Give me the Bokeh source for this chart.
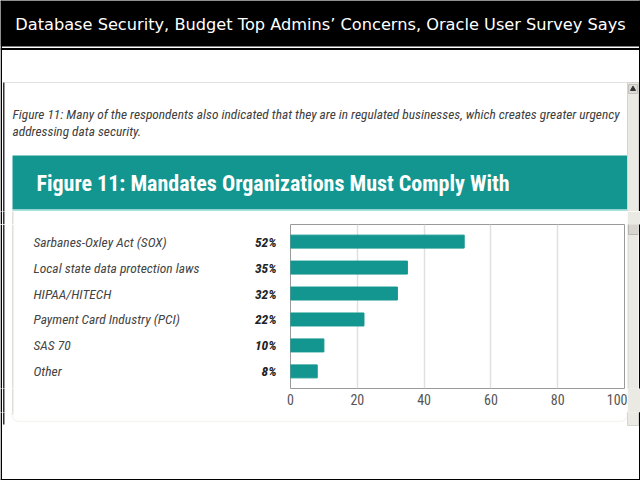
from bokeh.plotting import figure
from bokeh.models import (ColumnDataSource, FactorRange, Range1d, BoxAnnotation, FixedTicker)
from bokeh.layouts import row, column
from bokeh.core.properties import value
from bokeh.embed import file_html
from bokeh.resources import INLINE

# ---------------- data ----------------
categories = ["Sarbanes-Oxley Act (SOX)", "Local state data protection laws", "HIPAA/HITECH",
              "Payment Card Industry (PCI)", "SAS 70", "Other"]
values = [52, 35, 32, 22, 10, 8]
x_ticks = [0, 20, 40, 60, 80, 100]

page_title = "Database Security, Budget Top Admins\u2019 Concerns, Oracle User Survey Says"
caption_lines = ["Figure 11: Many of the respondents also indicated that they are in regulated businesses, which creates greater urgency",
                 "addressing data security."]
heading = "Figure 11:  Mandates  Organizations Must Comply With"

TEAL = "#12968f"
COND = "Roboto Condensed"
SCROLL = "#ebe9e4"

src = ColumnDataSource(dict(cat=categories, val=values, pct=[f"{v}%" for v in values]))

# ---------------- layout geometry (page pixels) ----------------
W, H = 640, 480
ROW_TOP, FRAME_TOP, FRAME_BOT, ROW_BOT = 211, 224, 388, 412
LEFT_W, CHART_R = 280, 627
FRAME_L, FRAME_R = 290, 624


def blank(x0, x1, y0, y1, y_range=None, fill="white"):
    f = figure(width=x1 - x0, height=y1 - y0, output_backend="svg", toolbar_location=None,
               x_range=Range1d(x0, x1),
               y_range=y_range if y_range is not None else Range1d(y1, y0),
               x_axis_location=None, y_axis_location=None, min_border=0)
    f.min_border_left = f.min_border_right = f.min_border_top = f.min_border_bottom = 0
    f.outline_line_color = None
    f.grid.visible = False
    f.background_fill_color = fill
    f.border_fill_color = fill
    return f


def rect(f, l, r, t, b, color):
    f.quad(left=[l], right=[r], top=[t], bottom=[b], fill_color=color, line_color=None)


def deco(f):
    # page header
    rect(f, 0, 640, 0, 46, "black")
    rect(f, 0, 640, 47.5, 49.5, "black")
    # embedded page frame
    rect(f, 4, 627, 81.5, 82.5, "#e2e2e2")
    rect(f, 2.5, 4, 82, 424, "#333333")
    # teal heading band
    rect(f, 12, 627, 155, 209, TEAL)
    rect(f, 12, 627, 209, 210.5, "#a8e0dc")
    # chart panel left border
    rect(f, 11.5, 13, 210, 414, "#e2dfd7")
    # scrollbar
    f.quad(left=[627], right=[638], top=[82], bottom=[425], fill_color=SCROLL,
           line_color="#d6d4ce")
    f.quad(left=[628], right=[637], top=[84], bottom=[93], fill_color="#dddbd5",
           line_color="#c4c2bc")
    f.scatter(x=[632.5], y=[88.5], marker="triangle", size=5, color="#333333")
    # outer border
    rect(f, 0, 1.5, 0, 480, "black")
    rect(f, 638.5, 640, 0, 480, "black")
    rect(f, 0, 640, 0, 1.5, "black")
    rect(f, 0, 640, 478.5, 480, "black")


# ---------------- top area ----------------
top = blank(0, W, 0, ROW_TOP)
deco(top)
top.text(x=[320], y=[24], text=[page_title], text_font=value("DejaVu Sans"),
         text_font_size="16.2px", text_color="white", text_align="center",
         text_baseline="middle")
for i, line in enumerate(caption_lines):
    top.text(x=[12], y=[114 + 17 * i], text=[line], text_font=value(COND),
             text_font_style="italic", text_font_size="13.4px", text_color="#404040",
             text_baseline="middle")
top.text(x=[36], y=[183], text=[heading], text_font=value(COND), text_font_style="bold",
         text_font_size="22px", text_color="white", text_baseline="middle")

# ---------------- chart ----------------
yr = FactorRange(factors=categories[::-1], range_padding=0.16, range_padding_units="absolute")
chart = figure(width=CHART_R - LEFT_W, height=ROW_BOT - ROW_TOP, output_backend="svg",
               toolbar_location=None, y_range=yr, x_range=Range1d(0, 100),
               y_axis_location=None,
               min_border_left=FRAME_L - LEFT_W, min_border_right=CHART_R - FRAME_R,
               min_border_top=FRAME_TOP - ROW_TOP, min_border_bottom=ROW_BOT - FRAME_BOT)
chart.background_fill_color = "white"
chart.border_fill_color = "white"
chart.outline_line_color = "#9a9a9a"
chart.hbar(y="cat", right="val", left=0, height=0.5, source=src,
           fill_color=TEAL, line_color=TEAL)
chart.xgrid.ticker = FixedTicker(ticks=x_ticks)
chart.xgrid.grid_line_color = "#e0e0e0"
chart.xgrid.grid_line_width = 1.5
chart.ygrid.grid_line_color = None
ax = chart.xaxis[0]
ax.ticker = FixedTicker(ticks=x_ticks)
ax.axis_line_color = None
ax.major_tick_line_color = None
ax.minor_tick_line_color = None
ax.major_tick_out = 0
ax.major_tick_in = 0
ax.major_label_text_font = COND
ax.major_label_text_font_size = "14px"
ax.major_label_text_color = "#555555"
ax.major_label_standoff = 5

# ---------------- left labels column ----------------
lt = blank(0, LEFT_W, ROW_TOP, FRAME_TOP)
deco(lt)
lm = figure(width=LEFT_W, height=FRAME_BOT - FRAME_TOP, output_backend="svg",
            toolbar_location=None, x_range=Range1d(0, LEFT_W), y_range=yr,
            x_axis_location=None, y_axis_location=None, min_border=0)
lm.min_border_left = lm.min_border_right = lm.min_border_top = lm.min_border_bottom = 0
lm.outline_line_color = None
lm.grid.visible = False
lm.border_fill_color = "white"
for l, r, c in [(0, 1.5, "black"), (2.5, 4, "#333333"), (11.5, 13, "#e2dfd7")]:
    lm.add_layout(BoxAnnotation(left=l, right=r, fill_color=c, fill_alpha=1,
                                line_color=None, editable=False))
lm.text(x=33, y="cat", text="cat", source=src, text_font=value(COND),
        text_font_style="italic", text_font_size="13.5px", text_color="#444444",
        text_baseline="middle", text_align="left")
lm.text(x=276, y="cat", text="pct", source=src, text_font=value(COND),
        text_font_style="bold italic", text_font_size="13.5px", text_color="#222222",
        text_baseline="middle", text_align="right")
lb = blank(0, LEFT_W, FRAME_BOT, ROW_BOT)
deco(lb)

# right strip (scrollbar part), drawn in its own canvas pixels
right = blank(CHART_R, W, ROW_TOP, ROW_BOT, fill=SCROLL)


def cbox(f, l, r, t, b, fill, line=None):
    f.add_layout(BoxAnnotation(left=l, right=r, top=t, bottom=b,
                               left_units="canvas", right_units="canvas",
                               top_units="canvas", bottom_units="canvas",
                               fill_color=fill, fill_alpha=1, line_color=line,
                               line_alpha=1 if line else 0, editable=False))


RW, RH = W - CHART_R, ROW_BOT - ROW_TOP
cbox(right, 0, 1, 0, RH, "#d6d4ce")
cbox(right, 1, 11, 222 - ROW_TOP, 234 - ROW_TOP, "#d8d5cf", "#b9b6b0")
cbox(right, 11, RW - 1.5, 0, RH, "white")
cbox(right, RW - 1.5, RW, 0, RH, "black")

# ---------------- bottom area ----------------
bottom = blank(0, W, ROW_BOT, H)
deco(bottom)
bottom.add_layout(BoxAnnotation(left=11.5, right=627, top=-40, bottom=421 - ROW_BOT,
                                left_units="canvas", right_units="canvas",
                                top_units="canvas", bottom_units="canvas",
                                fill_alpha=0, line_color="#e2dfd7", line_width=1.5,
                                border_radius=7, editable=False))
bottom.quad(left=[627], right=[638], top=[82], bottom=[425], fill_color=SCROLL,
            line_color="#d6d4ce")
rect(bottom, 638.5, 640, 0, 480, "black")

layout = column(top, row(column(lt, lm, lb), chart, right), bottom)

open("out.html", "w").write(file_html(layout, INLINE))
